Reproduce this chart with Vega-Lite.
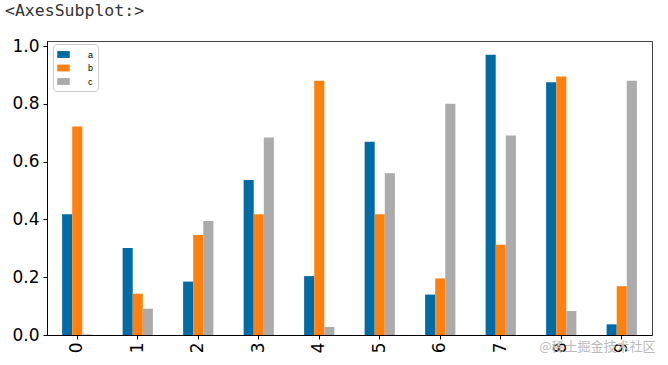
{
  "$schema": "https://vega.github.io/schema/vega-lite/v6.json",
  "width": 605,
  "height": 294,
  "autosize": "none",
  "padding": {"left": 47, "top": 41, "right": 16, "bottom": 30},
  "background": "white",
  "title": {
    "text": "<AxesSubplot:>",
    "anchor": "start",
    "frame": "group",
    "dx": -42,
    "offset": 5,
    "baseline": "alphabetic",
    "font": "DejaVu Sans Mono",
    "fontSize": 16.5,
    "fontWeight": "normal",
    "color": "#333333"
  },
  "data": {
    "values": [
      {"idx": "0", "series": "a", "value": 0.418},
      {"idx": "0", "series": "b", "value": 0.722},
      {"idx": "0", "series": "c", "value": 0.002},
      {"idx": "1", "series": "a", "value": 0.301},
      {"idx": "1", "series": "b", "value": 0.143},
      {"idx": "1", "series": "c", "value": 0.091},
      {"idx": "2", "series": "a", "value": 0.185},
      {"idx": "2", "series": "b", "value": 0.346},
      {"idx": "2", "series": "c", "value": 0.395},
      {"idx": "3", "series": "a", "value": 0.537},
      {"idx": "3", "series": "b", "value": 0.418},
      {"idx": "3", "series": "c", "value": 0.684},
      {"idx": "4", "series": "a", "value": 0.204},
      {"idx": "4", "series": "b", "value": 0.880},
      {"idx": "4", "series": "c", "value": 0.028},
      {"idx": "5", "series": "a", "value": 0.669},
      {"idx": "5", "series": "b", "value": 0.418},
      {"idx": "5", "series": "c", "value": 0.560},
      {"idx": "6", "series": "a", "value": 0.140},
      {"idx": "6", "series": "b", "value": 0.196},
      {"idx": "6", "series": "c", "value": 0.801},
      {"idx": "7", "series": "a", "value": 0.970},
      {"idx": "7", "series": "b", "value": 0.3125},
      {"idx": "7", "series": "c", "value": 0.691},
      {"idx": "8", "series": "a", "value": 0.875},
      {"idx": "8", "series": "b", "value": 0.895},
      {"idx": "8", "series": "c", "value": 0.083},
      {"idx": "9", "series": "a", "value": 0.037},
      {"idx": "9", "series": "b", "value": 0.169},
      {"idx": "9", "series": "c", "value": 0.880}
    ]
  },
  "mark": {"type": "bar"},
  "encoding": {
    "x": {
      "field": "idx",
      "type": "nominal",
      "sort": null,
      "scale": {"paddingInner": 0.5, "paddingOuter": 0.25},
      "axis": {
        "title": "@稀土掘金技术社区",
        "titleFont": "Noto Sans CJK SC",
        "titleFontSize": 13,
        "titleFontWeight": "normal",
        "titleColor": "#bbbbbb",
        "titleAnchor": "end",
        "titleAlign": "right",
        "titleBaseline": "middle",
        "titleX": 608,
        "titleY": 11,
        "labelAngle": -90,
        "labelFont": "DejaVu Sans",
        "labelFontSize": 17,
        "labelColor": "#000000",
        "labelPadding": 3,
        "tickSize": 4,
        "tickColor": "#000000",
        "domainColor": "#000000",
        "grid": false
      }
    },
    "xOffset": {
      "field": "series",
      "type": "nominal",
      "scale": {"paddingInner": 0, "paddingOuter": 0}
    },
    "y": {
      "field": "value",
      "type": "quantitative",
      "scale": {"domain": [0, 1.018], "nice": false, "zero": true},
      "axis": {
        "title": null,
        "values": [0, 0.2, 0.4, 0.6, 0.8, 1.0],
        "format": ".1f",
        "labelFont": "DejaVu Sans",
        "labelFontSize": 17,
        "labelColor": "#000000",
        "labelPadding": 4,
        "tickSize": 4,
        "tickColor": "#000000",
        "domainColor": "#000000",
        "grid": false
      }
    },
    "color": {
      "field": "series",
      "type": "nominal",
      "scale": {"domain": ["a", "b", "c"], "range": ["#006BA4", "#FF800E", "#ABABAB"]},
      "legend": {
        "title": null,
        "orient": "none",
        "legendX": 6,
        "legendY": 3,
        "padding": 4,
        "fillColor": "white",
        "strokeColor": "#cccccc",
        "cornerRadius": 3,
        "symbolType": "M-1,-0.55H1V0.55H-1Z",
        "symbolSize": 156,
        "symbolStrokeWidth": 0,
        "labelFont": "Liberation Sans",
        "labelFontSize": 9,
        "labelColor": "#000000",
        "labelOffset": 18,
        "rowPadding": 1.5
      }
    }
  },
  "config": {
    "view": {"stroke": "#444444", "strokeWidth": 1}
  }
}
